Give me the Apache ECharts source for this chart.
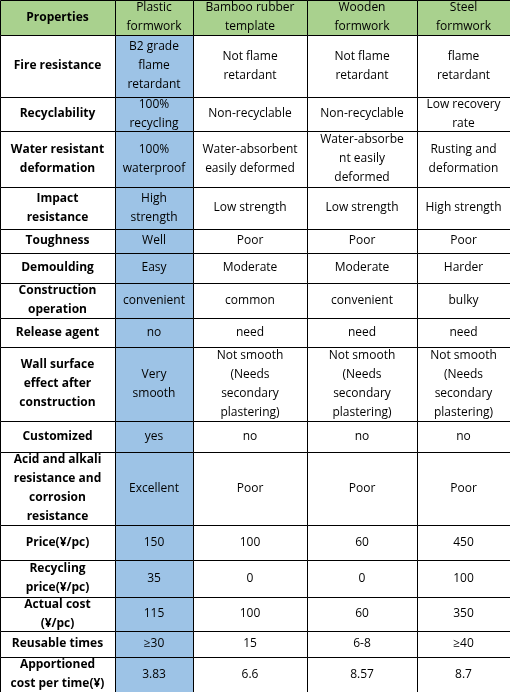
<!DOCTYPE html>
<html><head><meta charset="utf-8">
<script src="https://cdn.jsdelivr.net/npm/echarts@6/dist/echarts.min.js"></script>
<style>html,body{margin:0;padding:0;background:#fff}#c{width:510px;height:692px}</style>
</head><body><div id="c"></div>
<script>
const headers = ["Properties","Plastic\nformwork","Bamboo rubber\ntemplate","Wooden\nformwork","Steel\nformwork"];
const properties = ["Fire resistance","Recyclability","Water resistant\ndeformation","Impact\nresistance","Toughness","Demoulding","Construction\noperation","Release agent","Wall surface\neffect after\nconstruction","Customized","Acid and alkali\nresistance and\ncorrosion\nresistance","Price(¥/pc)","Recycling\nprice(¥/pc)","Actual cost\n(¥/pc)","Reusable times","Apportioned\ncost per time(¥)"];
const plastic = ["B2 grade\nflame\nretardant","100%\nrecycling","100%\nwaterproof","High\nstrength","Well","Easy","convenient","no","Very\nsmooth","yes","Excellent","150","35","115","≥30","3.83"];
const bamboo = ["Not flame\nretardant","Non-recyclable","Water-absorbent\neasily deformed","Low strength","Poor","Moderate","common","need","Not smooth\n(Needs\nsecondary\nplastering)","no","Poor","100","0","100","15","6.6"];
const wooden = ["Not flame\nretardant","Non-recyclable","Water-absorbe\nnt easily\ndeformed","Low strength","Poor","Moderate","convenient","need","Not smooth\n(Needs\nsecondary\nplastering)","no","Poor","60","0","60","6-8","8.57"];
const steel = ["flame\nretardant","Low recovery\nrate","Rusting and\ndeformation","High strength","Poor","Harder","bulky","need","Not smooth\n(Needs\nsecondary\nplastering)","no","Poor","450","100","350","≥40","8.7"];

// layout
const colW = [115,78,114,110,93];
const rowH = [35,62,34,56,42,24,30,35,29,74,31,73,35,37,34,26,35];
const colX=[0]; colW.forEach(w=>colX.push(colX[colX.length-1]+w));
const rowY=[0]; rowH.forEach(h=>rowY.push(rowY[rowY.length-1]+h));

const columns=[properties,plastic,bamboo,wooden,steel];
const cells=[];
headers.forEach((h,c)=>cells.push([c,0,h]));
columns.forEach((col,c)=>col.forEach((t,r)=>cells.push([c,r+1,t])));

const chart=echarts.init(document.getElementById('c'),null,{renderer:'canvas'});
chart.setOption({
  animation:false,
  grid:{left:0,right:0,top:0,bottom:0},
  xAxis:{type:'value',min:0,max:colX[colX.length-1],show:false},
  yAxis:{type:'value',min:0,max:rowY[rowY.length-1],inverse:true,show:false},
  series:[{
    type:'custom',
    data:cells,
    renderItem:function(params,api){
      const c=api.value(0), r=api.value(1), t=cells[params.dataIndex][2];
      const p0=api.coord([colX[c],rowY[r]]), p1=api.coord([colX[c+1],rowY[r+1]]);
      let fill='#ffffff';
      if(r===0) fill='#a9d18e'; else if(c===1) fill='#9dc3e6';
      const bold = c===0;
      return {type:'group',children:[
        {type:'rect',shape:{x:p0[0]+0.5,y:p0[1]+0.5,width:p1[0]-p0[0],height:p1[1]-p0[1]},
         style:{fill:fill,stroke:'#000',lineWidth:1}},
        {type:'text',x:(p0[0]+p1[0])/2,y:(p0[1]+p1[1])/2,
         style:{text:t,align:'center',verticalAlign:'middle',fill:'#000',
           font:(bold?'bold ':'')+'12px "Open Sans", "Liberation Sans", sans-serif',lineHeight:19}}
      ]};
    }
  }]
});
</script></body></html>
